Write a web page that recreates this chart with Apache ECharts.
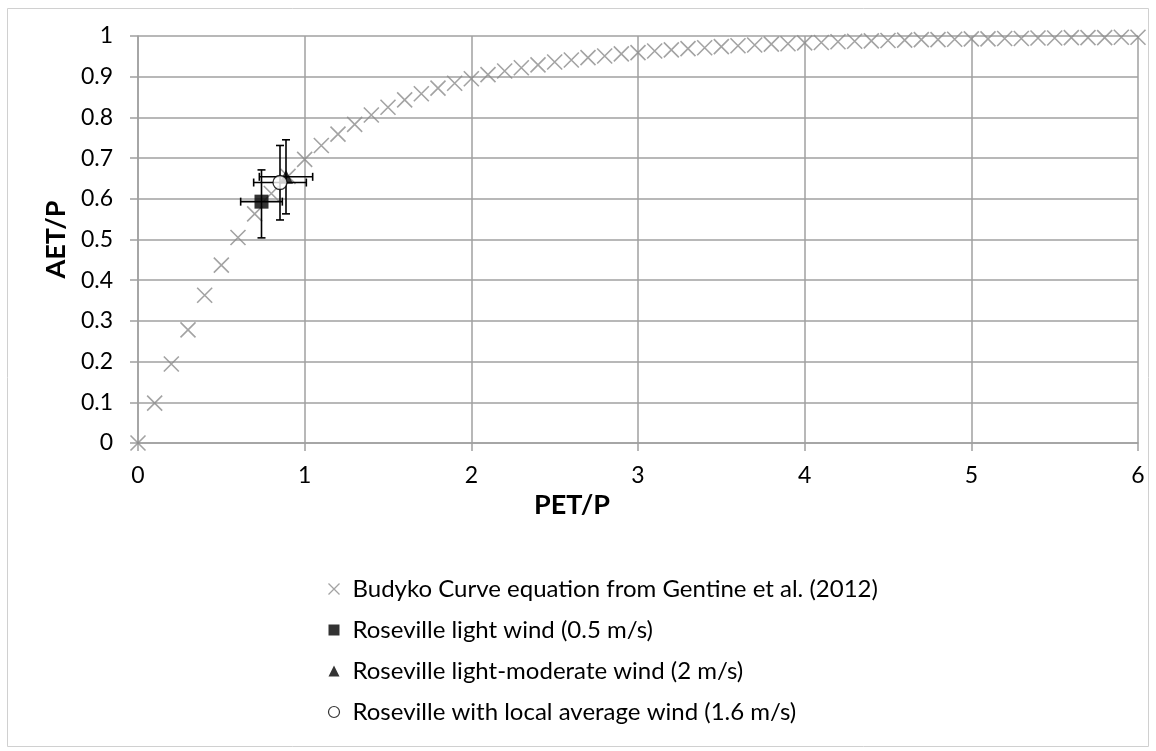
<!DOCTYPE html>
<html>
<head>
<meta charset="utf-8">
<script src="https://cdn.jsdelivr.net/npm/echarts@6/dist/echarts.min.js"></script>
<style>
html,body{margin:0;padding:0;background:#fff;}
#chart{width:1156px;height:751px;}
</style>
</head>
<body>
<div id="chart"></div>
<script>
// ---- data ----
const xTicks = [0, 1, 2, 3, 4, 5, 6];
const yTicks = [0, 0.1, 0.2, 0.3, 0.4, 0.5, 0.6, 0.7, 0.8, 0.9, 1];
const seriesNames = [
  'Budyko Curve equation from Gentine et al. (2012)',
  'Roseville light wind (0.5 m/s)',
  'Roseville light-moderate wind (2 m/s)',
  'Roseville with local average wind (1.6 m/s)'
];
const budykoX = [0,0.1,0.2,0.3,0.4,0.5,0.6,0.7,0.8,0.9,1.0,1.1,1.2,1.3,1.4,1.5,1.6,1.7,1.8,1.9,2.0,
  2.1,2.2,2.3,2.4,2.5,2.6,2.7,2.8,2.9,3.0,3.1,3.2,3.3,3.4,3.5,3.6,3.7,3.8,3.9,4.0,
  4.1,4.2,4.3,4.4,4.5,4.6,4.7,4.8,4.9,5.0,5.1,5.2,5.3,5.4,5.5,5.6,5.7,5.8,5.9,6.0];
const budykoY = [0,0.098,0.194,0.278,0.363,0.437,0.505,0.563,0.613,0.655,0.697,0.731,0.759,0.783,0.806,0.825,0.843,0.858,0.872,0.884,0.895,
  0.905,0.914,0.922,0.929,0.936,0.941,0.947,0.951,0.956,0.959,0.963,0.966,0.969,0.971,0.974,0.976,0.978,0.980,0.981,0.983,
  0.984,0.986,0.987,0.988,0.989,0.990,0.991,0.991,0.992,0.993,0.993,0.994,0.994,0.995,0.995,0.996,0.996,0.996,0.997,0.997];
// Roseville points: light, light-moderate, local average
const windX = [0.741, 0.888, 0.852];
const windY = [0.593, 0.654, 0.640];
const windXErr = [0.125, 0.160, 0.158];
const windYErrPlus = [0.078, 0.091, 0.091];
const windYErrMinus = [0.089, 0.091, 0.092];

// ---- chart ----
const FONT = 'Lato';
const chart = echarts.init(document.getElementById('chart'), null, {renderer: 'canvas'});
const xPath = 'path://M0,0L10,10M10,0L0,10';

function errorSeries(i) {
  return {
    type: 'custom',
    name: seriesNames[i + 1] + ' err',
    silent: true,
    z: 3,
    data: [[windX[i], windY[i], windX[i] - windXErr[i], windX[i] + windXErr[i], windY[i] - windYErrMinus[i], windY[i] + windYErrPlus[i]]],
    renderItem: function (params, api) {
      const l = api.coord([api.value(2), api.value(1)]);
      const r = api.coord([api.value(3), api.value(1)]);
      const b = api.coord([api.value(0), api.value(4)]);
      const t = api.coord([api.value(0), api.value(5)]);
      const cap = 4;
      const st = {stroke: '#000', lineWidth: 1.6};
      const line = (x1, y1, x2, y2) => ({type: 'line', shape: {x1, y1, x2, y2}, style: st});
      return {
        type: 'group',
        children: [
          line(l[0], l[1], r[0], r[1]),
          line(l[0], l[1] - cap, l[0], l[1] + cap),
          line(r[0], r[1] - cap, r[0], r[1] + cap),
          line(b[0], b[1], t[0], t[1]),
          line(b[0] - cap, b[1], b[0] + cap, b[1]),
          line(t[0] - cap, t[1], t[0] + cap, t[1])
        ]
      };
    }
  };
}

const option = {
  backgroundColor: '#fff',
  animation: false,
  textStyle: {fontFamily: FONT},
  grid: {left: 138, right: 18, top: 36, bottom: 308, containLabel: false},
  xAxis: {
    type: 'value', min: xTicks[0], max: xTicks[xTicks.length - 1], interval: 1,
    axisLine: {show: true, onZero: false, lineStyle: {color: '#a0a0a0', width: 1.5}},
    axisTick: {show: true, length: 8, lineStyle: {color: '#a0a0a0', width: 1.5}},
    splitLine: {show: true, lineStyle: {color: '#a0a0a0', width: 1.5}},
    axisLabel: {color: '#000', fontSize: 23, fontFamily: FONT, margin: 21},
    name: 'PET/P', nameLocation: 'middle', nameGap: 35,
    nameTextStyle: {color: '#000', fontSize: 27, fontWeight: 'bold', fontFamily: FONT, padding: [0, 132, 0, 0]}
  },
  yAxis: {
    type: 'value', min: yTicks[0], max: yTicks[yTicks.length - 1], interval: 0.1,
    axisLine: {show: true, onZero: false, lineStyle: {color: '#a0a0a0', width: 1.5}},
    axisTick: {show: true, length: 8, lineStyle: {color: '#a0a0a0', width: 1.5}},
    splitLine: {show: true, lineStyle: {color: '#a0a0a0', width: 1.5}},
    axisLabel: {color: '#000', fontSize: 23, fontFamily: FONT, margin: 25,
      formatter: v => String(Math.round(v * 10) / 10)},
    name: 'AET/P', nameLocation: 'middle', nameGap: 62, nameRotate: 90,
    nameTextStyle: {color: '#000', fontSize: 27, fontWeight: 'bold', fontFamily: FONT}
  },
  legend: {
    orient: 'vertical', left: 321, top: 572, itemGap: 17,
    itemWidth: 11, itemHeight: 11,
    textStyle: {color: '#000', fontSize: 24, fontFamily: FONT, padding: [0, 0, 0, 8]},
    data: [
      {name: seriesNames[0], icon: xPath, itemStyle: {color: 'none', borderColor: '#8c8c8c', borderWidth: 1.3}},
      {name: seriesNames[1], icon: 'rect'},
      {name: seriesNames[2], icon: 'triangle'},
      {name: seriesNames[3], icon: 'circle', itemStyle: {color: '#fff', borderColor: '#000', borderWidth: 1.2}}
    ]
  },
  graphic: [{
    type: 'rect', shape: {x: 7.5, y: 8.5, width: 1141, height: 738}, silent: true,
    style: {fill: 'none', stroke: '#d0d0d0', lineWidth: 1}, z: -1
  }],
  series: [
    {
      type: 'scatter', name: seriesNames[0], symbol: xPath, symbolSize: 15, z: 2,
      itemStyle: {color: 'none', borderColor: '#8c8c8c', borderWidth: 1.6},
      data: budykoX.map((x, i) => [x, budykoY[i]])
    },
    errorSeries(0), errorSeries(1), errorSeries(2),
    {
      type: 'scatter', name: seriesNames[1], symbol: 'rect', symbolSize: 14, z: 4,
      itemStyle: {color: '#000'},
      data: [[windX[0], windY[0]]]
    },
    {
      type: 'scatter', name: seriesNames[2], symbol: 'triangle', symbolSize: 14, z: 4,
      itemStyle: {color: '#000'},
      data: [[windX[1], windY[1]]]
    },
    {
      type: 'scatter', name: seriesNames[3], symbol: 'circle', symbolSize: 14, z: 5,
      itemStyle: {color: '#fff', borderColor: '#000', borderWidth: 1.3},
      data: [[windX[2], windY[2]]]
    }
  ]
};
chart.setOption(option);
</script>
</body>
</html>
